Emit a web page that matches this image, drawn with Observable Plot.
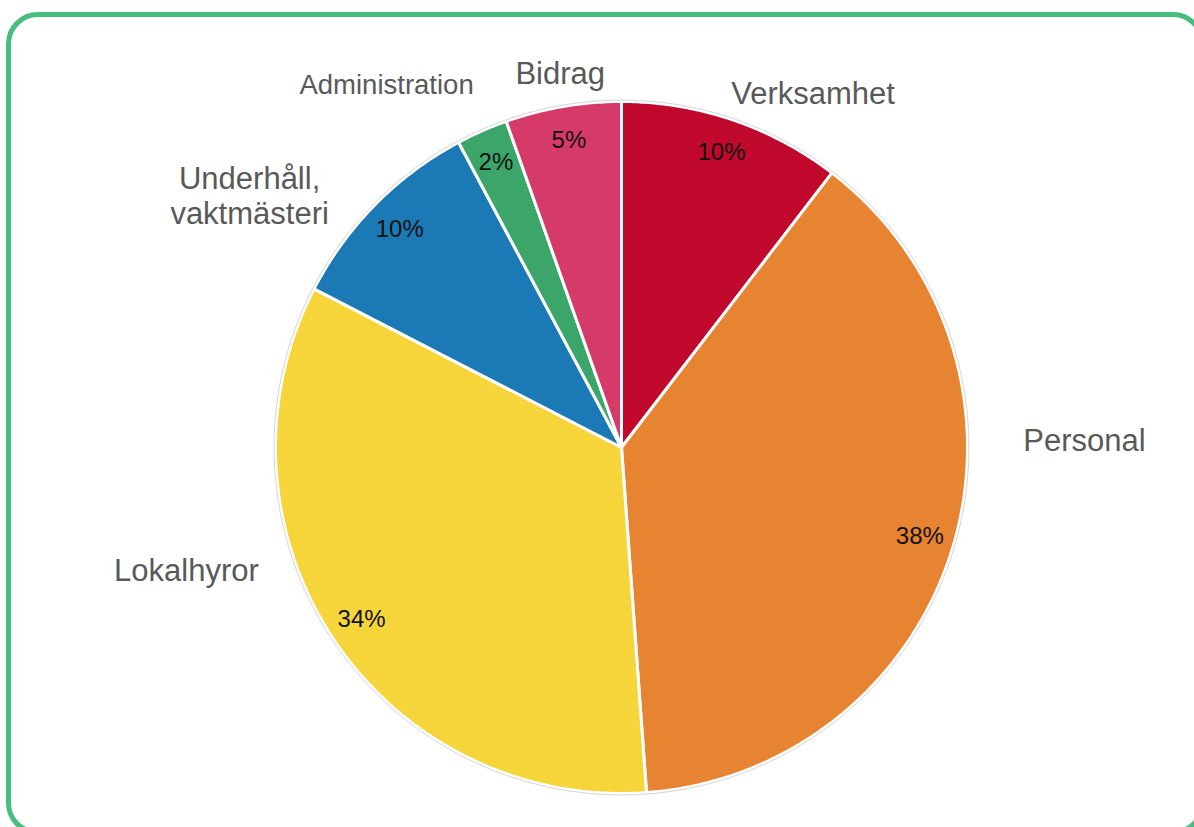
<!DOCTYPE html>
<html><head><meta charset="utf-8">
<script src="https://cdn.jsdelivr.net/npm/d3@7"></script>
<script src="https://cdn.jsdelivr.net/npm/@observablehq/plot@0.6"></script>
<style>
html,body{margin:0;padding:0;background:#fff;overflow:hidden;width:1194px;height:827px}
#frame{position:absolute;left:6px;top:12px;width:1199px;height:823px;box-sizing:border-box;border:5px solid #45BE7E;border-radius:32px;pointer-events:none}
#chart{position:absolute;left:0;top:0}
</style></head><body>
<div id="chart"></div><div id="frame"></div>
<script>
// ---- data ----
const categories = ["Verksamhet", "Personal", "Lokalhyror", "Underhåll,\nvaktmästeri", "Administration", "Bidrag"];
const shares = [10.4, 38.4, 33.7, 9.6, 2.4, 5.4];
const colors = ["#C1092E", "#E78432", "#F6D53A", "#1B7AB5", "#3CA66A", "#D63A69"];

// ---- label layout (polar: degrees clockwise from top, radius in pie radii) ----
const labelAngle = [28.4, 89.1, 254.3, 304.1, 327.1, 350.7];
const labelRadius = [1.164, 1.338, 1.306, 1.298, 1.250, 1.096];
const labelSize = [31, 31, 31, 31, 27.5, 31];

const total = d3.sum(shares);
const arcs = d3.pie().sort(null).value(d => d)(shares);

const slicePts = [];
arcs.forEach((a, i) => {
  const k = categories[i];
  slicePts.push({k, x: 0, y: 0});
  const n = Math.max(2, Math.ceil((a.endAngle - a.startAngle) / (Math.PI / 360)));
  for (let j = 0; j <= n; j++) {
    const t = a.startAngle + (a.endAngle - a.startAngle) * j / n;
    slicePts.push({k, x: Math.sin(t), y: Math.cos(t)});
  }
  slicePts.push({k, x: 0, y: 0});
});

const ring = d3.range(0, 721).map(j => {
  const t = j / 720 * 2 * Math.PI;
  return {x: 1.004 * Math.sin(t), y: 1.004 * Math.cos(t)};
});

const pct = arcs.map((a, i) => {
  const m = (a.startAngle + a.endAngle) / 2;
  return {x: 0.9 * Math.sin(m), y: 0.9 * Math.cos(m), t: Math.round(shares[i] / total * 100) + "%"};
});

const labels = categories.map((c, i) => {
  const t = labelAngle[i] * Math.PI / 180;
  return {x: labelRadius[i] * Math.sin(t), y: labelRadius[i] * Math.cos(t), t: c, s: labelSize[i]};
});

const font = "'Liberation Sans', Arial, sans-serif";

const chart = Plot.plot({
  width: 1194, height: 827,
  marginTop: 101, marginBottom: 34, marginLeft: 275, marginRight: 227,
  x: {domain: [-1, 1], axis: null},
  y: {domain: [-1, 1], axis: null},
  color: {domain: categories, range: colors},
  style: {fontFamily: font, background: "transparent", overflow: "visible"},
  marks: [
    Plot.line(slicePts, {x: "x", y: "y", z: "k", fill: "k", stroke: "white", strokeWidth: 3, strokeLinejoin: "round", curve: "linear"}),
    Plot.line(ring, {x: "x", y: "y", stroke: "#d4d4d4", strokeWidth: 1}),
    Plot.text(pct, {x: "x", y: "y", text: "t", fill: "#111", fontSize: 24, fontFamily: font}),
    Plot.text(labels, {x: "x", y: "y", text: "t", fill: "#595959", fontSize: "s", fontFamily: font, lineHeight: 1.13, lineAnchor: "middle"})
  ]
});
document.getElementById("chart").appendChild(chart);
</script></body></html>
